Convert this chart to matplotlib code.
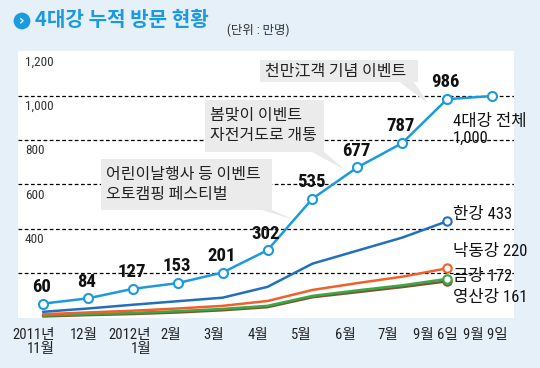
import matplotlib.pyplot as plt
from matplotlib.patches import Rectangle, Polygon
import numpy as np

# data (unit: 10,000 visitors)
periods = ["2011년\n11월", "12월", "2012년\n1월", "2월", "3월", "4월", "5월", "6월", "7월", "9월 6일", "9월 9일"]
total = [60, 84, 127, 153, 201, 302, 535, 677, 787, 986, 1000]
han = [23, 38, 55, 71, 87, 136, 241, 300, 359, 433]
nakdong = [12, 20, 28, 38, 50, 72, 122, 153, 182, 220]
geum = [6, 12, 18, 26, 36, 50, 95, 120, 143, 172]
yeongsan = [2, 8, 13, 20, 30, 44, 89, 112, 135, 161]
y_ticks = [400, 600, 800, 1000, 1200]
grid_vals = [200, 400, 600, 800, 1000]

plt.rcParams['font.family'] = ['Noto Sans CJK KR', 'DejaVu Sans']
narrow = ['Roboto Condensed', 'Noto Sans CJK KR']

bg = '#e5f0f9'
c_total = '#1b9ae0'
c_han = '#2170be'
c_nak = '#f1602a'
c_geum = '#3ba847'
c_yeong = '#7c5532'

fig = plt.figure(figsize=(5.4, 3.68), dpi=100, facecolor=bg)
ax = fig.add_axes([18 / 540, 50 / 368, 496 / 540, 267 / 368])
ax.set_facecolor('white')
ax.set_xlim(-0.557, 10.49)
ax.set_ylim(-5, 1204)
for s in ax.spines.values():
    s.set_visible(False)
ax.tick_params(length=0)
ax.set_yticks([])

x = np.arange(len(total))
xr = np.arange(len(han))

# gridlines
for v in grid_vals:
    ax.axhline(v, color='black', lw=0.9, ls=(0, (3, 2)), zorder=1)
for v in y_ticks:
    ax.annotate(f"{v:,}", (-0.40, v), xytext=(0, -3), textcoords='offset points',
                va='top', ha='left', fontsize=9.5, family=narrow, color='#333333', zorder=2)

# x tick labels (labels sit a bit left of the points, like the original)
tick_shift = np.array([-0.22, -0.09, -0.06, -0.15, -0.19, -0.21, -0.25, -0.27, -0.32, -0.27, -0.16])
ax.set_xticks(x + tick_shift)
ax.set_xticklabels(periods, fontsize=10.5, family=narrow, color='#222222',
                   multialignment='right', linespacing=1.05)
ax.tick_params(axis='x', pad=7)

# river lines
for vals, col in [(yeongsan, c_yeong), (geum, c_geum), (nakdong, c_nak), (han, c_han)]:
    ax.plot(xr, vals, color=col, lw=1.8, zorder=3, solid_capstyle='round')
    ax.plot(xr[-1], vals[-1], 'o', ms=6, mfc='white', mec=col, mew=1.5, zorder=4)

# total line
ax.plot(x, total, color=c_total, lw=1.8, zorder=5, marker='o', ms=6.5,
        mfc='white', mec=c_total, mew=1.5)
for xi, v in zip(x[:-1], total[:-1]):
    ax.annotate(str(v), (xi, v), xytext=(-1, 12), textcoords='offset points',
                ha='center', va='center', fontsize=13.5, fontweight='bold',
                family=narrow, color='#111111', zorder=6)

# callout boxes
boxes = [
    ((1.29, 484), 3.81, 231, [(4.88, 484), (5.10, 484), (5.59, 440)],
     (1.40, 600), "어린이날행사 등 이벤트\n오토캠핑 페스티벌"),
    ((3.61, 747), 2.65, 235, [(5.99, 747), (6.26, 747), (6.73, 665)],
     (3.72, 866), "봄맞이 이벤트\n자전거도로 개통"),
    ((4.83, 1063), 3.52, 100, [(7.95, 1063), (8.26, 1063), (8.58, 966)],
     (4.94, 1112), "천만江객 기념 이벤트"),
]
for xy, w, h, tri, txy, txt in boxes:
    ax.add_patch(Polygon(tri, closed=True, fc='#e9e9e9', ec='none', zorder=2))
    ax.add_patch(Rectangle(xy, w, h, fc='#ebebeb', ec='none', zorder=2))
    ax.text(txy[0], txy[1], txt, ha='left', va='center', fontsize=11.5,
            color='#222222', linespacing=1.25, zorder=3)

# right-side labels
ax.text(9.13, 846, "4대강 전체\n1,000", ha='left', va='center', fontsize=12,
        family=narrow, color='#111111', linespacing=1.15, zorder=6, clip_on=False)
right_labels = [("한강 433", 462), ("낙동강 220", 294), ("금강 172", 181), ("영산강 161", 86)]
for txt, yv in right_labels:
    ax.text(9.13, yv, txt, ha='left', va='center', fontsize=12, family=narrow,
            color='#111111', zorder=6)

# title
fig.text(22 / 540, 1 - 21 / 368, "›", ha='center', va='center', color='white',
         fontsize=10, fontweight='bold', family='DejaVu Sans',
         bbox=dict(boxstyle='circle,pad=0.1', fc=c_total, ec='none'))
fig.text(35 / 540, 1 - 20 / 368, "4대강 누적 방문 현황", ha='left', va='center',
         fontsize=14.5, fontweight='bold', color=c_total)
fig.text(227 / 540, 1 - 30 / 368, "(단위 : 만명)", ha='left', va='center',
         fontsize=9, family=narrow, color='#333333')

fig.savefig('out.png', dpi=100, facecolor=bg)
